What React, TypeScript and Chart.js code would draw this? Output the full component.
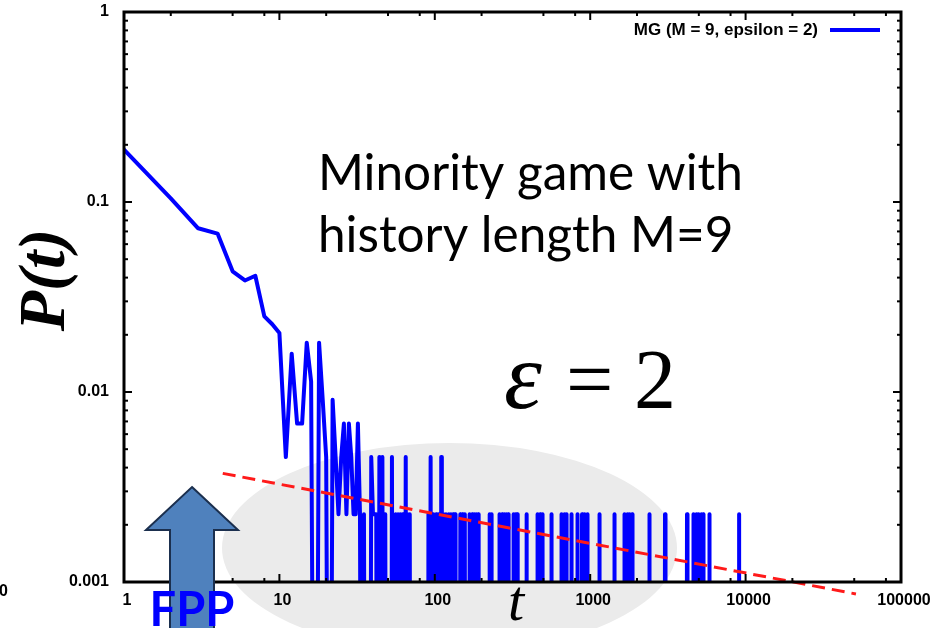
import { useEffect, useRef } from 'react';
import { Chart, registerables } from 'chart.js';

Chart.register(...registerables);

// Number of recorded first-passage events; P(t) = count / SAMPLE_SIZE
const SAMPLE_SIZE = 440;
// Empty bins: a log axis cannot show 0, so they sit far below the visible range
const EMPTY_BIN = 1e-6;

// Event counts for t = 1 … 32
const earlyCounts = [83, 46, 32, 30, 19, 17, 18, 11, 10, 9, 2, 7, 3, 3, 8, 5, 0, 8, 4, 2, 0, 4, 2, 1, 2, 3, 1, 3, 2, 1, 1, 3];

// Sparse tail: times (t > 32) with a non-zero count
const lateTimes = [
  33, 35, 39, 40, 41, 42, 44, 46, 48, 53,
  56, 58, 60, 62, 63, 65, 67, 69,
  91, 94, 98, 102, 106, 110, 114, 118, 123, 127, 131, 135,
  146, 150, 154, 156, 168, 174, 181, 186, 190,
  226, 231, 262, 271, 281, 290, 296, 322, 330, 339,
  388, 459, 476, 496, 564, 658, 680, 702, 756, 828, 886, 919, 958,
  1151, 1433, 1667, 1730, 1796, 1858,
  2415, 3030, 4197, 4634, 4810, 4991, 5180, 5320, 5840, 9100,
];
const lateCounts = [
  1, 1, 2, 1, 1, 1, 2, 2, 1, 2,
  1, 1, 1, 1, 1, 2, 1, 1,
  1, 2, 1, 1, 1, 2, 1, 1, 1, 1, 1, 1,
  1, 1, 1, 1, 1, 1, 1, 1, 1,
  1, 1, 1, 1, 1, 1, 1, 1, 1, 1,
  1, 1, 1, 1, 1, 1, 1, 1, 1, 1, 1, 1, 1,
  1, 1, 1, 1, 1, 1,
  1, 1, 1, 1, 1, 1, 1, 1, 1, 1,
];

// Power-law guide line (end points)
const fitTimes = [4.32, 51300];
const fitValues = [0.00373, 0.000865];

const xTickValues = [1, 10, 100, 1000, 10000, 100000];
const xTickLabels = ['1', '10', '100', '1000', '10000', '100000'];
const yTickValues = [0.001, 0.01, 0.1, 1];
const yTickLabels = ['0.001', '0.01', '0.1', '1'];
const xMinorSteps = [2, 5, 8];
const yMinorSteps = [2, 3, 4, 5, 6, 7, 8, 9];

const seriesLabel = 'MG (M = 9, epsilon = 2)';
const BLUE = '#0000ff';

function buildSeries() {
  const byTime = new Map<number, number>();
  earlyCounts.forEach((c, i) => byTime.set(i + 1, c));
  lateTimes.forEach((t, i) => byTime.set(t, lateCounts[i]));
  const last = lateTimes[lateTimes.length - 1] + 1;
  const pts: { x: number; y: number }[] = [];
  for (let t = 1; t <= last; t++) {
    const c = byTime.get(t) ?? 0;
    pts.push({ x: t, y: c > 0 ? c / SAMPLE_SIZE : EMPTY_BIN });
  }
  return pts;
}

const tickFont = { family: '"Liberation Sans", Arial, sans-serif', size: 16, weight: 'bold' as const };

const decorations = {
  id: 'decorations',
  beforeDraw(chart: any) {
    const ctx = chart.ctx;
    ctx.save();
    ctx.fillStyle = '#ebebeb';
    ctx.beginPath();
    ctx.ellipse(449.5, 548, 227.5, 105, 0, 0, Math.PI * 2);
    ctx.fill();
    ctx.restore();
  },
  afterDatasetsDraw(chart: any) {
    const { ctx, chartArea: a } = chart;
    const xs = chart.scales.x;
    const ys = chart.scales.y;
    ctx.save();
    ctx.strokeStyle = '#000';
    ctx.lineWidth = 2;
    const tick = (x1: number, y1: number, x2: number, y2: number) => {
      ctx.beginPath();
      ctx.moveTo(x1, y1);
      ctx.lineTo(x2, y2);
      ctx.stroke();
    };
    for (let d = 0; d <= 5; d++) {
      const base = Math.pow(10, d);
      const px = xs.getPixelForValue(base);
      tick(px, a.bottom, px, a.bottom - 8);
      tick(px, a.top, px, a.top + 8);
      if (d < 5) {
        for (const m of xMinorSteps) {
          const p = xs.getPixelForValue(base * m);
          tick(p, a.bottom, p, a.bottom - 4);
          tick(p, a.top, p, a.top + 4);
        }
      }
    }
    for (let d = -3; d <= 0; d++) {
      const base = Math.pow(10, d);
      const py = ys.getPixelForValue(base);
      tick(a.left, py, a.left + 8, py);
      tick(a.right, py, a.right - 8, py);
      if (d < 0) {
        for (const m of yMinorSteps) {
          const p = ys.getPixelForValue(base * m);
          tick(a.left, p, a.left + 4, p);
          tick(a.right, p, a.right - 4, p);
        }
      }
    }
    ctx.lineWidth = 3;
    ctx.strokeRect(a.left, a.top, a.right - a.left, a.bottom - a.top);
    ctx.restore();
  },
  afterDraw(chart: any) {
    const ctx = chart.ctx;
    ctx.save();

    // legend
    ctx.fillStyle = '#000';
    ctx.font = 'bold 17px "Liberation Sans", Arial, sans-serif';
    ctx.textAlign = 'right';
    ctx.textBaseline = 'middle';
    ctx.fillText(seriesLabel, 818, 30);
    ctx.strokeStyle = BLUE;
    ctx.lineWidth = 4;
    ctx.beginPath();
    ctx.moveTo(830, 30);
    ctx.lineTo(880, 30);
    ctx.stroke();

    // stray edge label
    ctx.textAlign = 'left';
    ctx.font = 'bold 16px "Liberation Sans", Arial, sans-serif';
    ctx.fillText('0', -1, 592);

    // arrow marking the first-passage peak
    ctx.beginPath();
    ctx.moveTo(192, 487);
    ctx.lineTo(238, 530);
    ctx.lineTo(214, 530);
    ctx.lineTo(214, 640);
    ctx.lineTo(170, 640);
    ctx.lineTo(170, 530);
    ctx.lineTo(146, 530);
    ctx.closePath();
    ctx.fillStyle = '#4f81bd';
    ctx.fill();
    ctx.strokeStyle = '#1b2f4e';
    ctx.lineWidth = 2;
    ctx.stroke();

    ctx.fillStyle = BLUE;
    ctx.font = 'bold 47px Lato, sans-serif';
    ctx.textAlign = 'center';
    ctx.textBaseline = 'alphabetic';
    ctx.fillText('FPP', 192, 626);

    // annotations
    ctx.fillStyle = '#000';
    ctx.textAlign = 'left';
    ctx.font = '49.5px Lato, sans-serif';
    ctx.fillText('Minority game with', 318, 190);
    ctx.fillText('history length M=9', 318, 252);

    ctx.font = 'italic 96px "Liberation Serif", serif';
    ctx.fillText('ε', 504, 408);
    ctx.font = '84px "Liberation Serif", serif';
    ctx.fillText('=', 566, 408);
    ctx.fillText('2', 634, 408);

    // axis titles
    ctx.font = 'italic 58px "Liberation Serif", serif';
    ctx.textAlign = 'center';
    ctx.fillText('t', 516, 620);

    ctx.save();
    ctx.translate(64, 280);
    ctx.rotate(-Math.PI / 2);
    ctx.font = 'bold italic 66px "Liberation Serif", serif';
    ctx.textAlign = 'center';
    ctx.fillText('P(t)', 0, 0);
    ctx.restore();

    ctx.restore();
  },
};

export default function App() {
  const canvasRef = useRef<HTMLCanvasElement | null>(null);

  useEffect(() => {
    const canvas = canvasRef.current;
    if (!canvas) return;
    const chart = new Chart(canvas, {
      type: 'line',
      data: {
        datasets: [
          {
            label: 'fit',
            data: fitTimes.map((t, i) => ({ x: t, y: fitValues[i] })),
            borderColor: '#ff1a1a',
            borderWidth: 3,
            borderDash: [13, 7],
            pointRadius: 0,
            clip: false as any,
          },
          {
            label: seriesLabel,
            data: buildSeries(),
            borderColor: BLUE,
            borderWidth: 4,
            borderJoinStyle: 'round',
            borderCapStyle: 'round',
            pointRadius: 0,
            tension: 0,
          },
        ],
      },
      options: {
        responsive: false,
        animation: false,
        devicePixelRatio: 1,
        layout: { padding: { top: 12, right: 45, left: 0, bottom: 0 } },
        plugins: { legend: { display: false }, tooltip: { enabled: false } },
        events: [],
        scales: {
          x: {
            type: 'logarithmic',
            min: 1,
            max: 100000,
            afterBuildTicks: (s: any) => {
              s.ticks = xTickValues.map((v) => ({ value: v }));
            },
            afterFit: (s: any) => {
              s.height = 46;
              s.paddingLeft = 0;
              s.paddingRight = 0;
            },
            grid: { display: false, drawTicks: false },
            border: { display: false },
            ticks: {
              autoSkip: false,
              maxRotation: 0,
              padding: 9,
              labelOffset: 3,
              color: '#000',
              font: tickFont,
              callback: (v: any) => xTickLabels[xTickValues.indexOf(Number(v))] ?? '',
            },
          },
          y: {
            type: 'logarithmic',
            min: 0.001,
            max: 1,
            afterBuildTicks: (s: any) => {
              s.ticks = yTickValues.map((v) => ({ value: v }));
            },
            afterFit: (s: any) => {
              s.width = 124;
              s.paddingTop = 0;
              s.paddingBottom = 0;
            },
            grid: { display: false, drawTicks: false },
            border: { display: false },
            ticks: {
              autoSkip: false,
              padding: 15,
              color: '#000',
              font: tickFont,
              callback: (v: any) => yTickLabels[yTickValues.indexOf(Number(v))] ?? '',
            },
          },
        },
      },
      plugins: [decorations],
    });
    return () => chart.destroy();
  }, []);

  return (
    <div style={{ position: 'fixed', left: 0, top: 0, width: 946, height: 628, background: '#fff' }}>
      <canvas ref={canvasRef} width={946} height={628} style={{ width: 946, height: 628, display: 'block' }} />
    </div>
  );
}
